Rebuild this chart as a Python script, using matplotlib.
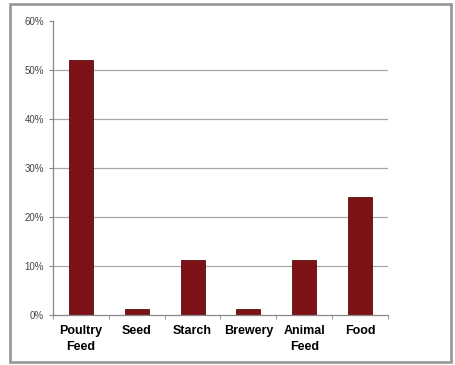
import matplotlib.pyplot as plt
from matplotlib.patches import Rectangle
from matplotlib.ticker import PercentFormatter

categories = ["Poultry\nFeed", "Seed", "Starch", "Brewery", "Animal\nFeed", "Food"]
shares = [52, 1.2, 11.2, 1.2, 11.2, 24.1]
yticks = [0, 10, 20, 30, 40, 50, 60]

plt.rcParams['font.family'] = ['Liberation Sans', 'DejaVu Sans']

fig = plt.figure(figsize=(4.56, 3.65), dpi=100)
ax = fig.add_axes([0.116, 0.137, 0.735, 0.805])

# outer frame around the chart
fig.patches.append(Rectangle((10 / 456, 3 / 365), 441 / 456, 358 / 365,
                             transform=fig.transFigure, fill=False,
                             edgecolor="#9a9a9a", linewidth=2))

x = range(len(categories))
for t in yticks[1:-1]:
    ax.axhline(t, color="#a8a8a8", linewidth=0.9, zorder=0)
ax.bar(x, shares, width=0.43, color="#7d1216", edgecolor="#5a0c0e", linewidth=0.6, zorder=2)

ax.set_xlim(-0.5, len(categories) - 0.5)
ax.set_ylim(0, 60)
ax.set_yticks(yticks)
ax.yaxis.set_major_formatter(PercentFormatter(decimals=0))
ax.tick_params(axis="y", labelsize=7, colors="#444444", length=3, color="#888888")

ax.set_xticks(list(x))
ax.set_xticklabels(categories, fontsize=9, fontweight="bold", linespacing=1.45)
ax.tick_params(axis="x", length=0, pad=7)
ax.set_xticks([i + 0.5 for i in range(-1, len(categories))], minor=True)
ax.tick_params(axis="x", which="minor", length=3, color="#888888")

for side in ["top", "right"]:
    ax.spines[side].set_visible(False)
for side in ["left", "bottom"]:
    ax.spines[side].set_color("#888888")
    ax.spines[side].set_linewidth(0.9)

plt.savefig("out.png", dpi=100)
